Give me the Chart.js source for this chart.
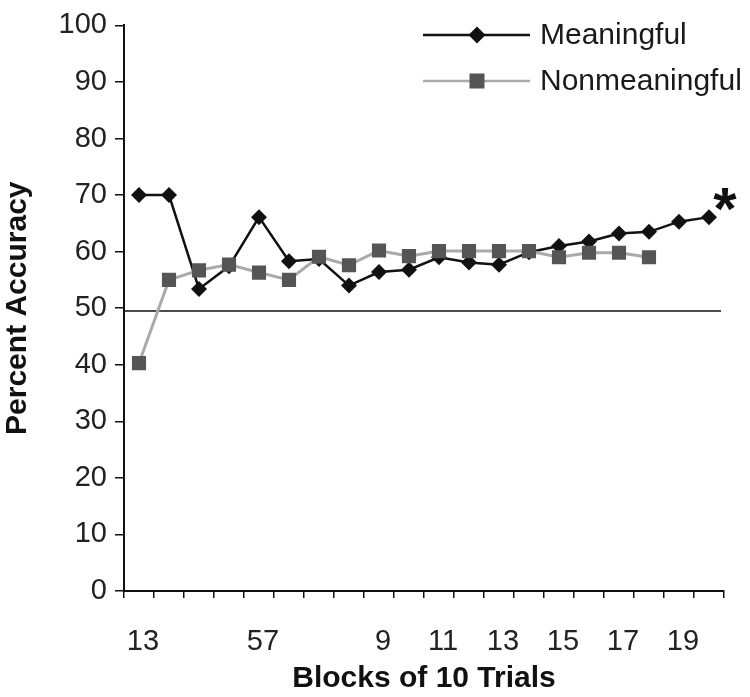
<!DOCTYPE html>
<html>
<head>
<meta charset="utf-8">
<script src="https://cdn.jsdelivr.net/npm/chart.js@4"></script>
<style>
  html, body { margin: 0; padding: 0; background: #fff; }
  #wrap { width: 750px; height: 697px; }
</style>
</head>
<body>
<div id="wrap"><canvas id="myChart" width="750" height="697"></canvas></div>
<script>
// blocks of 10 trials (tick text as printed in the figure)
const blockLabels = ["13", "", "", "", "57", "", "", "", "9", "", "11", "", "13", "", "15", "", "17", "", "19", ""];
const meaningful = [70, 70, 53.4, 57.4, 66.1, 58.3, 58.7, 54.0, 56.4, 56.8, 59.0, 58.1, 57.7, 59.9, 61.0, 61.8, 63.2, 63.5, 65.3, 66.1];
const nonmeaningful = [40.3, 55.0, 56.7, 57.7, 56.3, 55.0, 59.1, 57.6, 60.2, 59.2, 60.1, 60.1, 60.1, 60.1, 59.0, 59.8, 59.8, 59.0, null, null];
const chanceLevel = 49.5;
const seriesNames = ["Meaningful", "Nonmeaningful"];

const FONT = "'Liberation Sans', Arial, Helvetica, sans-serif";

const drawDiamond = (c, x, y, r, fill) => {
  c.beginPath();
  c.moveTo(x, y - r);
  c.lineTo(x + r, y);
  c.lineTo(x, y + r);
  c.lineTo(x - r, y);
  c.closePath();
  c.fillStyle = fill;
  c.fill();
};

const extras = {
  id: "extras",
  beforeDatasetsDraw(chart) {
    // chance line
    const { ctx: c, chartArea: a, scales } = chart;
    const y = scales.y.getPixelForValue(chanceLevel);
    c.save();
    c.strokeStyle = "#111";
    c.lineWidth = 1.6;
    c.beginPath();
    c.moveTo(a.left, y);
    c.lineTo(a.right - 3, y);
    c.stroke();
    c.restore();
  },
  afterDatasetsDraw(chart) {
    const { ctx: c } = chart;
    c.save();
    // asterisk next to last Meaningful point
    const meta = chart.getDatasetMeta(0);
    const last = meta.data[meta.data.length - 1];
    c.fillStyle = "#111";
    c.font = "bold 60px " + FONT;
    c.textAlign = "center";
    c.textBaseline = "alphabetic";
    c.fillText("*", last.x + 16, last.y + 12);

    // legend
    const rows = [
      { y: 35, color: "#111", width: 2.5, marker: "diamond", fill: "#111" },
      { y: 81, color: "#aaa", width: 2.5, marker: "square", fill: "#555" },
    ];
    c.font = "30px " + FONT;
    c.textAlign = "left";
    c.textBaseline = "middle";
    rows.forEach((r, i) => {
      c.strokeStyle = r.color;
      c.lineWidth = r.width;
      c.beginPath();
      c.moveTo(423, r.y);
      c.lineTo(530, r.y);
      c.stroke();
      if (r.marker === "diamond") drawDiamond(c, 477, r.y, 8.5, r.fill);
      else {
        c.fillStyle = r.fill;
        c.fillRect(477 - 7.5, r.y - 7.5, 15, 15);
      }
      c.fillStyle = "#1a1a1a";
      c.fillText(seriesNames[i], 540, r.y + 1);
    });
    c.restore();
  },
};

const ctx = document.querySelector("canvas#myChart").getContext("2d");
const myChart = new Chart(ctx, {
  type: "line",
  data: {
    labels: blockLabels,
    datasets: [
      {
        label: seriesNames[0],
        data: meaningful,
        borderColor: "#111",
        borderWidth: 2.5,
        backgroundColor: "#111",
        pointStyle: "rectRot",
        pointRadius: 8,
        pointBorderWidth: 0,
        tension: 0,
        order: 2,
      },
      {
        label: seriesNames[1],
        data: nonmeaningful,
        borderColor: "#aaa",
        borderWidth: 3,
        backgroundColor: "#555",
        pointStyle: "rect",
        pointRadius: 10,
        pointBorderWidth: 0,
        tension: 0,
        order: 1,
      },
    ],
  },
  options: {
    responsive: false,
    animation: false,
    layout: { padding: { top: 18, right: 26, left: 0, bottom: 0 } },
    plugins: {
      legend: { display: false },
      tooltip: { enabled: false },
    },
    scales: {
      x: {
        offset: true,
        grid: { offset: true, drawOnChartArea: false, color: "#111", tickLength: 7, lineWidth: 1.5 },
        border: { color: "#111", width: 2 },
        ticks: {
          autoSkip: false,
          maxRotation: 0,
          padding: 27,
          labelOffset: 4,
          color: "#222",
          font: { family: FONT, size: 29 },
        },
        title: {
          display: true,
          text: "Blocks of 10 Trials",
          color: "#111",
          font: { family: FONT, size: 30, weight: "bold" },
          padding: { top: 0, bottom: 0 },
        },
        afterFit: (scale) => { scale.height = 106; },
      },
      y: {
        min: 0,
        max: 100,
        grid: { drawOnChartArea: false, color: "#111", tickLength: 9, lineWidth: 1.5 },
        border: { color: "#111", width: 2 },
        ticks: {
          stepSize: 10,
          padding: 8,
          color: "#222",
          font: { family: FONT, size: 29 },
        },
        title: {
          display: true,
          text: "Percent Accuracy",
          color: "#111",
          font: { family: FONT, size: 30, weight: "bold" },
          padding: 0,
        },
        afterFit: (scale) => { scale.width = 124; },
      },
    },
  },
  plugins: [extras],
});
</script>
</body>
</html>
